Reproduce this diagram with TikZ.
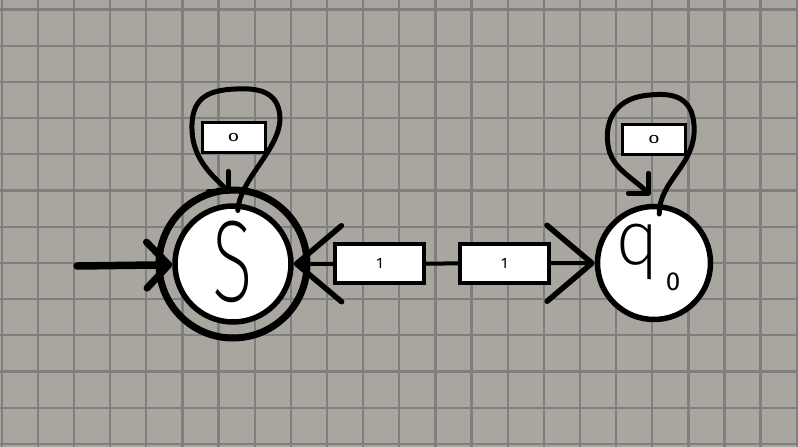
\documentclass[tikz,border=0pt]{standalone}
\usepackage{fontspec}
\usepackage{graphicx}
\usetikzlibrary{arrows.meta}
\IfFontExistsTF{Fira Sans ExtraLight}{\newfontfamily\hand{Fira Sans ExtraLight}}{%
 \IfFontExistsTF{Fira Sans Light}{\newfontfamily\hand{Fira Sans Light}}{%
  \IfFontExistsTF{DejaVu Sans ExtraLight}{\newfontfamily\hand{DejaVu Sans ExtraLight}}{%
   \IfFontExistsTF{Open Sans Light}{\newfontfamily\hand{Open Sans Light}}{%
    \IfFontExistsTF{Lato Light}{\newfontfamily\hand{Lato Light}}{%
     \newfontfamily\hand{lmmonolt10-regular.otf}}}}}}
\newfontfamily\lblfont{Fira Sans}
\definecolor{bgc}{HTML}{A9A69F}
\definecolor{gridc}{HTML}{7F7F7F}
\newcommand\smalltxt{\lblfont\fontsize{15}{15}\selectfont}
\begin{document}
\begin{tikzpicture}[x=1pt,y=-1pt,
  gridline/.style={gridc, line width=2.3pt},
  state/.style={circle, draw=black, fill=white, line width=5.5pt, inner sep=0pt},
  ring/.style={circle, draw=black, line width=7pt, inner sep=0pt},
  lbl/.style={draw=black, fill=white, line width=3pt, inner sep=0pt, minimum width=63pt, minimum height=30pt},
  elbl/.style={draw=black, fill=white, line width=4pt, inner sep=0pt, minimum width=89pt, minimum height=39pt},
  trans/.style={line width=4pt, {Straight Barb[length=45pt,width=76pt,line width=5.5pt,round]}-{Straight Barb[length=45pt,width=76pt,line width=5.5pt,round]}},
  loopa/.style={line width=5pt, line cap=round, -{Straight Barb[length=14pt,width=28pt,line width=5pt,round]}},
  initarr/.style={line width=7.5pt, line cap=round, -{Straight Barb[length=22pt,width=46pt,line width=7pt,round]}}
]
\useasboundingbox (0,0) rectangle (798,447);
\fill[bgc] (0,0) rectangle (798,447);
\foreach \k in {0,...,22} \draw[gridline] ({1.7+36.14*\k},0) -- ({1.7+36.14*\k},447);
\foreach \k in {0,...,12} \draw[gridline] (0,{9.5+36.2*\k}) -- (798,{9.5+36.2*\k});

% states
\node[ring, minimum size=148pt] (Sring) at (233,264) {};
\node[state, minimum size=116pt] (S) at (233,264)
  {\makebox[0pt]{\raisebox{-37.7pt}[0pt][0pt]{\hand\fontsize{116}{116}\selectfont\scalebox{0.65}[1]{S}}}};
\node[state, minimum size=113pt] (q0) at (654,263)
  {\makebox[0pt]{\hspace{-12pt}\raisebox{-1pt}[0pt][0pt]{\hand\fontsize{76}{76}\selectfont q\kern6pt\raisebox{-26pt}{\lblfont\fontsize{26}{26}\selectfont 0}}}};

% loop end points
\coordinate (Sin) at (230,193);
\coordinate (q0in) at (650,195);
\coordinate (init) at (77,266);

% self loops
\draw[loopa, shorten <=-7pt] (S.85) .. controls (240,178) and (280,150) .. (280,118)
  .. controls (279,90) and (256,88) .. (236,89)
  .. controls (205,90) and (191,100) .. (192,130)
  .. controls (193,160) and (213,176) .. (Sin);
\draw[loopa, shorten <=-10pt] (q0.85) .. controls (659,180) and (697,165) .. (694,125)
  .. controls (692,95) and (670,93) .. (650,95)
  .. controls (618,97) and (604,118) .. (608,145)
  .. controls (611,168) and (632,177) .. (q0in);

\node[lbl] (l0S) at (233.5,137) {\smalltxt\scalebox{1.35}[0.8]{0}};
\node[lbl] (l0q) at (654,139.5) {\smalltxt\scalebox{1.35}[0.8]{0}};

% transitions between S and q0
\draw[trans] (S) -- node[elbl, pos=0.285] (l1a) {\smalltxt 1} node[elbl, pos=0.70] (l1b) {\smalltxt 1} (q0);

% initial arrow
\draw[initarr] (init) -- (S);
\end{tikzpicture}
\end{document}
